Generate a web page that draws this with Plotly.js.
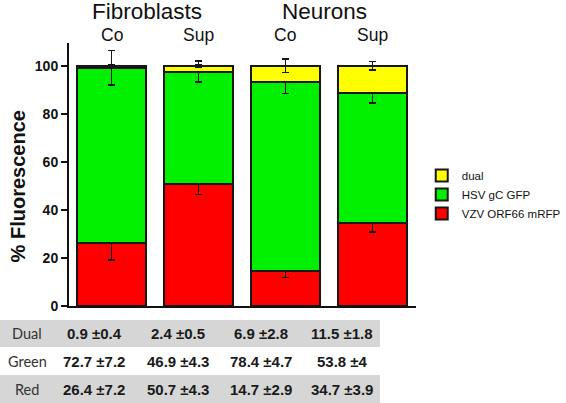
<!DOCTYPE html>
<html>
<head>
<meta charset="utf-8">
<script src="https://cdn.plot.ly/plotly-3.0.1.min.js"></script>
<style>html,body{margin:0;padding:0;background:#fff;}#chart{width:566px;height:403px;}</style>
</head>
<body>
<div id="chart"></div>
<script>
// ---- data ----
var groups = ['Fibroblasts', 'Neurons'];
var conditions = ['Co', 'Sup', 'Co', 'Sup'];
var categories = ['Fibroblasts Co', 'Fibroblasts Sup', 'Neurons Co', 'Neurons Sup'];
var seriesNames = ['VZV ORF66 mRFP', 'HSV gC GFP', 'dual'];
var redMean = [26.4, 50.7, 14.7, 34.7];
var redErr = [7.2, 4.3, 2.9, 3.9];
var greenMean = [72.7, 46.9, 78.4, 53.8];
var greenErr = [7.2, 4.3, 4.7, 4];
var dualMean = [0.9, 2.4, 6.9, 11.5];
var dualErr = [0.4, 0.5, 2.8, 1.8];
var rowLabels = ['Dual', 'Green', 'Red'];
var yTicks = [0, 20, 40, 60, 80, 100];

var W = 566, H = 403;
var edge = {color: '#161616', width: 2};
function errs(a) {
  return {type: 'data', array: a, visible: true, color: '#161616', thickness: 1.6, width: 3.5};
}
var traces = [
  {type: 'bar', name: seriesNames[0], x: categories, y: redMean, error_y: errs(redErr),
   marker: {color: '#ff0000', line: edge}, width: 0.8},
  {type: 'bar', name: seriesNames[1], x: categories, y: greenMean, error_y: errs(greenErr),
   marker: {color: '#00f000', line: edge}, width: 0.8},
  {type: 'bar', name: seriesNames[2], x: categories, y: dualMean, error_y: errs(dualErr),
   marker: {color: '#ffff00', line: edge}, width: 0.8}
];

// ---- table below the chart (row bands + text) ----
var rowMeans = [dualMean, greenMean, redMean];
var rowErrs = [dualErr, greenErr, redErr];
var rowTop = [320, 347, 375, 403];         // pixel bands
var colCenters = [28, 97, 183, 269, 352];   // pixel centres
var rowFill = ['#d6d6d6', '#ffffff', '#d6d6d6'];
var shapes = [];
var ann = [];
for (var r = 0; r < rowLabels.length; r++) {
  shapes.push({type: 'rect', xref: 'paper', yref: 'paper', x0: 0, x1: 391 / W,
               y0: 1 - rowTop[r + 1] / H, y1: 1 - rowTop[r] / H,
               fillcolor: rowFill[r], line: {width: 0}, layer: 'below'});
  var yc = 1 - (rowTop[r] + rowTop[r + 1]) / 2 / H;
  ann.push({text: rowLabels[r], xref: 'paper', yref: 'paper', x: colCenters[0] / W, y: yc,
            xanchor: 'center', yanchor: 'middle', showarrow: false,
            font: {family: 'Lato', size: 14.5, color: '#333'}});
  for (var c = 0; c < categories.length; c++) {
    ann.push({text: '<b>' + rowMeans[r][c] + '\u00a0\u00b1' + rowErrs[r][c] + '</b>',
              xref: 'paper', yref: 'paper', x: colCenters[c + 1] / W, y: yc,
              xanchor: 'center', yanchor: 'middle', showarrow: false,
              font: {family: 'Liberation Sans, Arial', size: 15, color: '#1a1a1a'}});
  }
}

var groupX = [0.41, 2.45];
groups.forEach(function (g, k) {
  ann.push({text: g, xref: 'x', yref: 'paper', x: groupX[k], y: 1 - 11 / H, yanchor: 'middle',
            showarrow: false, font: {size: 22.5, color: '#111', family: 'Liberation Sans, Arial'}});
});
conditions.forEach(function (c, k) {
  ann.push({text: c, xref: 'x', yref: 'paper', x: k, y: 1 - 35 / H, yanchor: 'middle',
            showarrow: false, font: {size: 17.5, color: '#111', family: 'Liberation Sans, Arial'}});
});
ann.push({text: '<b>% Fluorescence</b>', xref: 'paper', yref: 'y', x: 18 / W, y: 50, textangle: -90,
          xanchor: 'center', yanchor: 'middle', showarrow: false,
          font: {size: 20, color: '#111', family: 'Liberation Sans, Arial'}});

var layout = {
  width: W, height: H,
  margin: {l: 0, r: 0, t: 0, b: 0},
  paper_bgcolor: '#ffffff', plot_bgcolor: '#ffffff',
  barmode: 'stack',
  font: {family: 'Liberation Sans, Arial', color: '#111'},
  xaxis: {domain: [71 / W, 428 / W], type: 'category', range: [-0.49, 3.5], showticklabels: false,
          ticks: '', showline: true, linewidth: 2, linecolor: '#111', showgrid: false, zeroline: false},
  yaxis: {domain: [1 - 306 / H, 1 - 43 / H], range: [0, 109.5], tickvals: yTicks, ticks: 'outside',
          ticklen: 6, tickwidth: 2, tickcolor: '#111', showline: true, linewidth: 2, linecolor: '#111',
          showgrid: false, zeroline: false,
          tickfont: {size: 14, color: '#111', family: 'Liberation Sans, Arial', weight: 'bold'}},
  legend: {x: 434 / W, xanchor: 'left', y: 1 - 161 / H, yanchor: 'top', bgcolor: 'rgba(0,0,0,0)',
           font: {size: 11.5, color: '#111', family: 'Liberation Sans, Arial'}},
  shapes: shapes,
  annotations: ann,
  showlegend: true
};
Plotly.newPlot('chart', traces, layout, {displayModeBar: false, staticPlot: true});
</script>
</body>
</html>
